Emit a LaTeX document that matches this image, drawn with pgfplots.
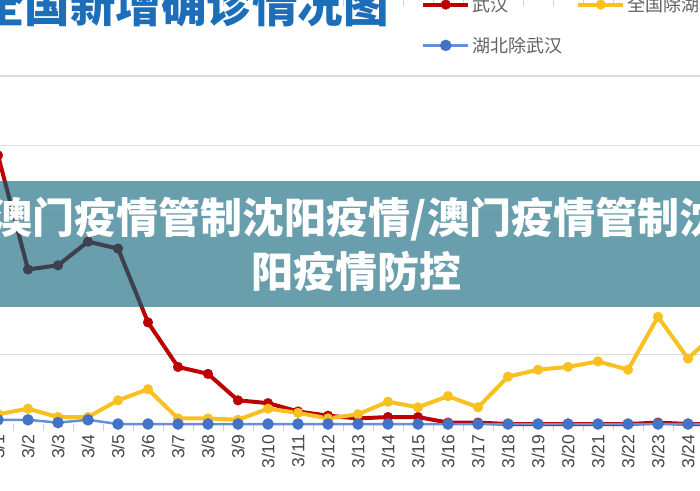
\documentclass[border=0pt]{standalone}
\usepackage{fontspec}
\setmainfont{Liberation Sans}
\newfontfamily\cjk{Noto Sans CJK SC}
\usepackage{pgfplots}
\usepackage{pgfplotstable}
\pgfplotsset{compat=1.18}
\definecolor{wred}{RGB}{188,0,4}
\definecolor{nyel}{RGB}{248,192,32}
\definecolor{hblue}{RGB}{68,114,196}
\definecolor{hblueline}{RGB}{104,142,214}
\definecolor{bannerc}{RGB}{96,152,167}
\definecolor{darkline}{RGB}{62,64,80}
\definecolor{titleblue}{RGB}{28,110,184}

\pgfplotstableread{
d wuhan nation hubei
0 193 7 3
1 111 11 3
2 114 5 1
3 131 5 3
4 126 17 0
5 73 25 0
6 41 4 0
7 36 4 0
8 17 3 0
9 15 11 0
10 9 8 0
11 6 4 0
12 4 7 0
13 5 16 0
14 5 12 0
15 1 20 0
16 1 12 0
17 0 34 0
18 0 39 0
19 0 41 0
20 0 45 0
21 0 39 0
22 1 77 0
23 0 47 0
24 0 67 0
}\data

\begin{document}
\begin{tikzpicture}
\useasboundingbox (0pt,0pt) rectangle (700pt,490pt);
\clip (0pt,0pt) rectangle (700pt,490pt);
\begin{axis}[
  at={(-32pt,66pt)}, anchor=south west,
  x=30pt, y=1.392pt,
  xmin=-1, xmax=25, ymin=0, ymax=300,
  clip=false,
  axis line style={draw=none},
  xtick={0,...,23},
  xticklabels={3/1,3/2,3/3,3/4,3/5,3/6,3/7,3/8,3/9,3/10,3/11,3/12,3/13,3/14,3/15,3/16,3/17,3/18,3/19,3/20,3/21,3/22,3/23,3/24},
  minor x tick num=1,
  major tick length=0pt, minor tick length=7pt,
  tick align=outside,
  minor tick style={color=black!18, line width=1pt},
  xticklabel shift=7pt,
  xticklabel style={rotate=90, anchor=east, font=\fontsize{17.5}{17.5}\selectfont, text=black!72},
  ytick={50,100,150,200,250}, yticklabels={},
  ymajorgrids, grid style={color=black!14, line width=1.5pt},
  legend columns=2,
  legend cell align=left,
  legend style={draw=none, fill=none, at={(axis description cs:0.577,1.0345)}, anchor=north west,
    font=\cjk\fontsize{18}{18}\selectfont, text=black!62, row sep=20pt,
    /tikz/every even column/.append style={column sep=12pt}},
  legend image code/.code={\draw[#1, mark indices={2}] plot coordinates {(0pt,0pt) (22.5pt,0pt) (45pt,0pt)};},
]
\addplot[wred, line width=4pt, mark=*, mark size=4.8pt, mark options={line width=0.5pt}] table[x=d,y=wuhan] {\data};
\addlegendentry{武汉}
\addplot[nyel, line width=4pt, mark=*, mark size=4.8pt, mark options={line width=0.5pt}] table[x=d,y=nation] {\data};
\addlegendentry{全国除湖北}
\addplot[hblueline, line width=2.5pt, mark=*, mark size=5.5pt, mark options={hblue, line width=0.5pt}] table[x=d,y=hubei] {\data};
\addlegendentry{湖北除武汉}
\end{axis}
\fill[bannerc, fill opacity=0.94] (0pt,183pt) rectangle (700pt,309pt);
\begin{axis}[
  at={(-32pt,183pt)}, anchor=south west,
  x=30pt, y=1.392pt,
  xmin=-1, xmax=25, ymin=84.05, ymax=174.56,
  hide axis, clip=true, clip marker paths=true,
]
\addplot[darkline, line width=4pt, mark=*, mark size=4.8pt, mark options={line width=0.5pt}] table[x=d,y=wuhan] {\data};
\end{axis}
\node[text=white, font=\cjk\bfseries\fontsize{42}{42}\selectfont, anchor=center] at (356pt,271pt)
  {澳门疫情管制沈阳疫情/澳门疫情管制沈};
\node[text=white, font=\cjk\bfseries\fontsize{42}{42}\selectfont, anchor=center] at (356pt,219pt)
  {阳疫情防控};
\node[text=titleblue, font=\cjk\bfseries\fontsize{45.5}{45.5}\selectfont, anchor=center] at (184pt,485pt) {全国新增确诊情况图};
\end{tikzpicture}
\end{document}
